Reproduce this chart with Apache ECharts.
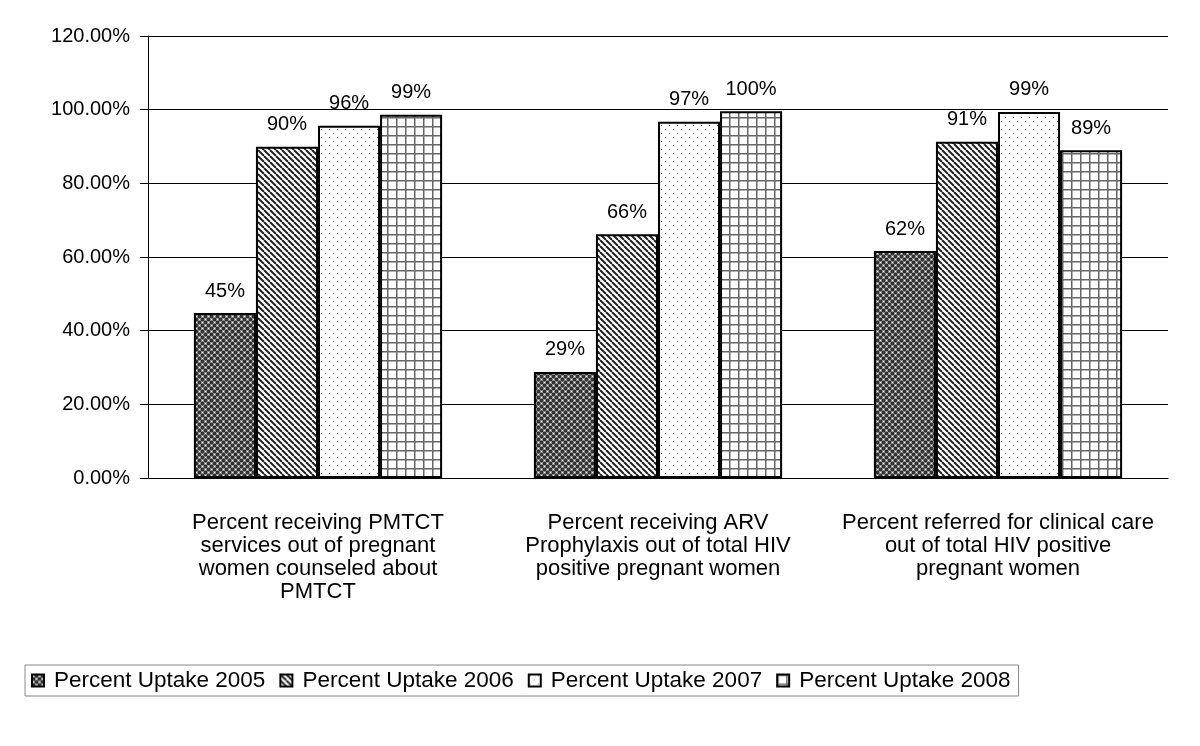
<!DOCTYPE html>
<html>
<head>
<meta charset="utf-8">
<script src="https://cdn.jsdelivr.net/npm/echarts@6/dist/echarts.min.js"></script>
<style>html,body{margin:0;padding:0;background:#fff}#c{width:1200px;height:746px}</style>
</head>
<body>
<div id="c"></div>
<script>
const categories = [
  'Percent receiving PMTCT\nservices out of pregnant\nwomen counseled about\nPMTCT',
  'Percent receiving ARV\nProphylaxis out of total HIV\npositive pregnant women',
  'Percent referred for clinical care\nout of total HIV positive\npregnant women'
];
const seriesNames = ['Percent Uptake 2005', 'Percent Uptake 2006', 'Percent Uptake 2007', 'Percent Uptake 2008'];
const uptake2005 = [44.8, 28.8, 61.6];
const uptake2006 = [89.9, 66.2, 91.3];
const uptake2007 = [95.6, 96.7, 99.4];
const uptake2008 = [98.6, 99.6, 89.0];
const yTicks = [0, 20, 40, 60, 80, 100, 120];

function tile(w, h, draw) {
  const c = document.createElement('canvas');
  c.width = w; c.height = h;
  const g = c.getContext('2d');
  g.fillStyle = '#fff'; g.fillRect(0, 0, w, h);
  draw(g);
  return { image: c, repeat: 'repeat' };
}
const pat1 = tile(6, 6, g => {
  g.fillStyle = '#333'; g.fillRect(0, 0, 6, 6);
  g.fillStyle = '#8a8a8a'; g.fillRect(0, 0, 3, 3); g.fillRect(3, 3, 3, 3);
  g.fillStyle = '#f5f5f5'; g.fillRect(1, 1, 1, 1); g.fillRect(4, 4, 1, 1);
});
const pat2 = tile(6, 6, g => {
  g.strokeStyle = '#222'; g.lineWidth = 2;
  for (let k = -6; k <= 12; k += 6) {
    g.beginPath(); g.moveTo(k, 0); g.lineTo(k + 6, 6); g.stroke();
  }
});
const pat3 = tile(8, 8, g => {
  g.fillStyle = '#777'; g.fillRect(1, 1, 1, 1); g.fillRect(5, 5, 1, 1);
});
const pat4 = tile(9, 9, g => {
  g.fillStyle = '#666'; g.fillRect(0, 0, 1.5, 9); g.fillRect(0, 0, 9, 1.5);
});
const patterns = [pat1, pat2, pat3, pat4];
const dataSets = [uptake2005, uptake2006, uptake2007, uptake2008];
const font = 'Liberation Sans, Arial, sans-serif';

const chart = echarts.init(document.getElementById('c'));
chart.setOption({
  animation: false,
  grid: { left: 148, right: 32, top: 36, bottom: 268 },
  legend: {
    left: 25, top: 665, orient: 'horizontal',
    data: seriesNames,
    icon: 'rect', itemWidth: 12, itemHeight: 12, itemGap: 14,
    padding: [4, 8, 4, 6],
    borderColor: '#888', borderWidth: 1,
    textStyle: { fontFamily: font, fontSize: 22.5, color: '#000', padding: [0, 0, 0, 5] }
  },
  xAxis: {
    type: 'category', data: categories,
    axisLine: { lineStyle: { color: '#000', width: 1 } },
    axisTick: { show: false },
    axisLabel: { fontFamily: font, fontSize: 22, color: '#000', lineHeight: 23, margin: 33, interval: 0 }
  },
  yAxis: {
    type: 'value', min: 0, max: 120, interval: 20,
    axisLine: { show: true, lineStyle: { color: '#000' } },
    axisTick: { show: true, length: 8, lineStyle: { color: '#000' } },
    splitLine: { lineStyle: { color: '#000', width: 1 } },
    axisLabel: { fontFamily: font, fontSize: 20, color: '#000', margin: 18,
      formatter: v => v.toFixed(2) + '%' }
  },
  series: dataSets.map((d, i) => ({
    name: seriesNames[i], type: 'bar', data: d,
    barGap: '0%', barCategoryGap: '27%',
    itemStyle: { color: patterns[i], borderColor: '#000', borderWidth: 2 },
    label: { show: true, position: 'top', distance: 12, fontFamily: font, fontSize: 20, color: '#000',
      formatter: p => Math.round(p.value) + '%' }
  }))
});
</script>
</body>
</html>
